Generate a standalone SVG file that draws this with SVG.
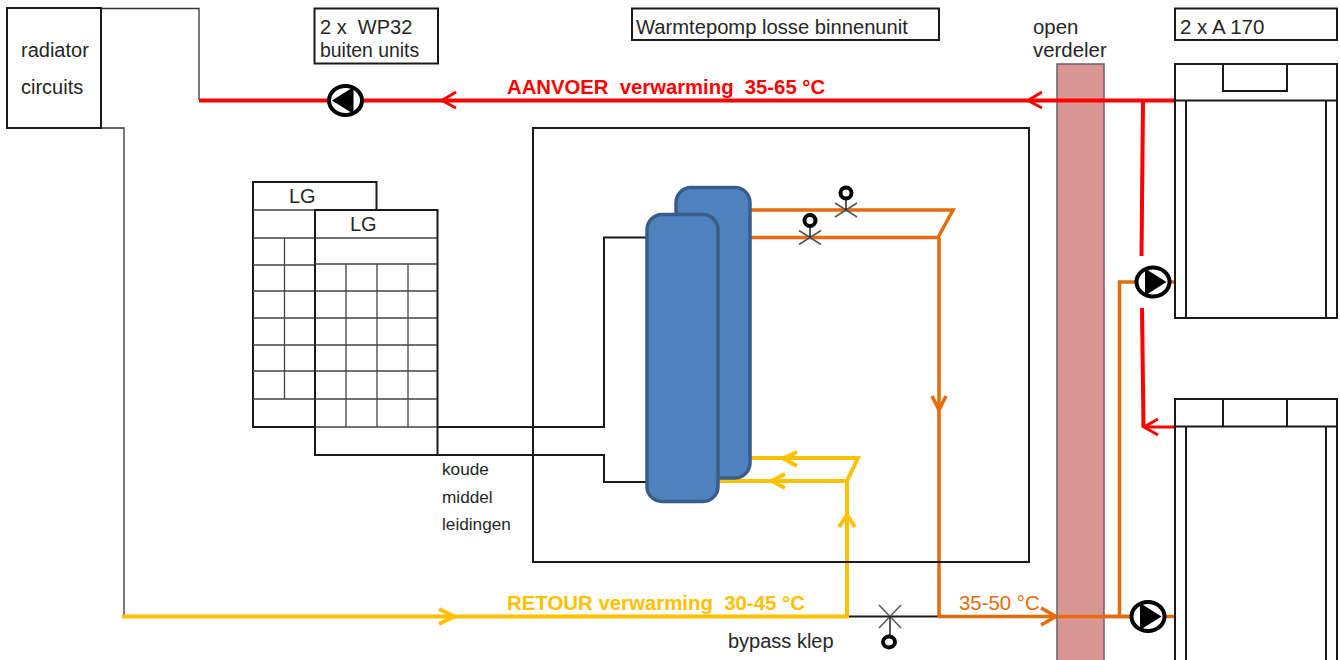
<svg xmlns="http://www.w3.org/2000/svg" width="1340" height="660" viewBox="0 0 1340 660">
<style>
text{font-family:"Liberation Sans",Arial,sans-serif;font-size:20px;fill:#262626;white-space:pre}
.box{fill:#fff;stroke:#1a1a1a;stroke-width:2}
.bl{fill:none;stroke:#1a1a1a;stroke-width:2}
.thin{fill:none;stroke:#333;stroke-width:1.3}
.grid{fill:none;stroke:#444;stroke-width:1.3}
.red{fill:none;stroke:#ff0000;stroke-width:4;stroke-linejoin:miter}
.red2{fill:none;stroke:#ff0000;stroke-width:3}
.or{fill:none;stroke:#e46c0a;stroke-width:3.5}
.ye{fill:none;stroke:#ffc000;stroke-width:4}
.tank{fill:#4f81bd;stroke:#385d8a;stroke-width:3.5}
.x{fill:none;stroke:#555;stroke-width:1.5}
.ring{fill:#fff;stroke:#000;stroke-width:4}
.pr{fill:#fff;stroke:#000;stroke-width:4}
</style>
<defs>
<g id="pump"><ellipse class="pr" cx="0" cy="0" rx="16.500" ry="14.500"/><path d="M-8-13.500 L13.500 0 L-8 13.500Z" fill="#000"/></g>
<g id="valve"><path class="x" d="M-11-7L11 7M-11 7L11-7"/><path d="M0 0V-11" stroke="#222" stroke-width="1.5" fill="none"/><circle class="ring" cx="0" cy="-17" r="5.500"/></g>
</defs>

<g id="connectors">
<path class="thin" d="M101 8.500H199V100"/>
<path class="thin" d="M101 128H124V616"/>
<path class="bl" d="M437 427H604V237.500H648"/>
<path class="bl" d="M437 455H604V482H648"/>
<path class="bl" d="M847 616.500H939"/>
<path class="ye" d="M122 616.500H847V481H718"/>
<path class="ye" d="M750 458H858L847 481"/>
<path class="ye" d="M439 609L454 616.500L439 624"/>
<path class="ye" d="M797 452L783 458.500L797 466"/>
<path class="ye" d="M785 474L772 481L785 488"/>
<path class="ye" d="M839 527L847 515L855 527"/>
<path class="or" d="M718 237.500H938"/>
<path class="or" d="M750 210H953L938 237.500"/>
<path class="or" d="M939 237.500V616.500H1132"/>
<path class="or" d="M932 396L939 410L946 396"/>
<path class="or" d="M1041 608L1056 616.500L1041 625"/>
<path class="or" d="M1137 282H1119.500V616"/>
<path class="or" d="M1165 616.500H1175"/>
<path class="or" d="M1168 282H1175"/>
</g>

<g id="verdeler"><rect x="1057" y="64" width="47" height="598" fill="#d99694" stroke="#666" stroke-width="1.500"/></g>

<g id="connectors-over">
<path class="or" d="M1057 616.500H1132"/>
<path class="red" d="M199 100.500H1175"/>
<path class="red2" d="M456 92L442 100.500L456 108"/>
<path class="red2" d="M1042 92L1028 100.500L1042 108"/>
<path class="red" d="M1143 100.500L1141.500 256"/>
<path class="red" d="M1142 308L1143.500 427"/>
<path class="red2" d="M1175 427H1144"/>
<path class="red2" d="M1158 419L1144 427L1158 435"/>
</g>

<g id="radiator"><rect class="box" x="7" y="8" width="94" height="120"/><text x="21" y="57">radiator</text><text x="21" y="94">circuits</text></g>
<g id="wp32"><rect class="box" x="314.500" y="8.500" width="123.500" height="55"/><text x="320" y="34">2 x  WP32</text><text x="320" y="57" style="font-size:19.400px">buiten units</text></g>
<g id="binnenunit-label"><rect class="box" x="632" y="8.500" width="307" height="31.500"/><text x="636" y="33.500" style="font-size:20.200px">Warmtepomp losse binnenunit</text></g>
<g id="verdeler-label"><text x="1033" y="33.500" style="font-size:20.400px">open</text><text x="1033" y="57" style="font-size:20.400px">verdeler</text></g>
<g id="a170-label"><rect class="box" x="1175" y="8.500" width="162" height="31.500"/><text x="1180" y="34" style="font-size:20.500px">2 x A 170</text></g>

<g id="unit1"><rect class="box" x="1175" y="64" width="162" height="254"/><path class="bl" d="M1175 100.500H1337M1186 100.500V318M1326 100.500V318"/><rect class="box" x="1223" y="64" width="64" height="27"/></g>
<g id="unit2"><path class="box" d="M1175 662V399H1337V662"/><path class="bl" d="M1175 426.500H1337M1186 426.500V662M1326 426.500V662M1223 399.500V426.500M1287 399.500V426.500"/></g>

<g id="binnenunit"><rect class="bl" x="533" y="128" width="496" height="434"/></g>

<g id="lg-back"><rect class="box" x="253" y="182" width="123.500" height="245"/><path class="grid" d="M253 210H376M253 238H376M253 265H376M253 291H376M253 318H376M253 345H376M253 371H376M253 399H376M284.500 238V399"/><text x="289" y="203">LG</text></g>
<g id="lg-front"><rect class="box" x="315" y="210" width="122.500" height="245"/><path class="grid" d="M315 238H437M315 264H437M315 291H437M315 318H437M315 345H437M315 371H437M315 399H437M315 427H437M346 264V427M377 264V427M408 264V427"/><text x="350" y="231">LG</text></g>

<g id="tank-back"><rect class="tank" x="676" y="187.500" width="74" height="290.500" rx="15"/></g>
<g id="tank-front"><rect class="tank" x="647" y="214.500" width="71" height="287" rx="15"/></g>

<g id="pump-1"><use href="#pump" transform="translate(345.500 100.500) scale(-1 1)"/></g>
<g id="pump-2"><use href="#pump" transform="translate(1153 282)"/></g>
<g id="pump-3"><use href="#pump" transform="translate(1148 616.500)"/></g>
<g id="valve-1"><use href="#valve" transform="translate(846 210)"/></g>
<g id="valve-2"><use href="#valve" transform="translate(810 237.500)"/></g>
<g id="valve-3"><path class="x" d="M879 605L901 628M879 628L901 605"/><path d="M890 616V636" stroke="#222" stroke-width="1.500"/><ellipse class="ring" cx="889" cy="642" rx="6" ry="5.500"/></g>

<g id="labels">
<text x="507" y="94" style="fill:#ff0000;font-weight:700;font-size:20.300px">AANVOER  verwarming  35-65 °C</text>
<text x="507" y="610" style="fill:#ffc000;font-weight:700;font-size:20.400px">RETOUR verwarming  30-45 °C</text>
<text x="959" y="610" style="fill:#e46c0a;font-size:20.400px">35-50 °C</text>
<text x="728" y="648">bypass klep</text>
<text x="442" y="475" style="font-size:17.200px">koude</text>
<text x="442" y="503" style="font-size:17.200px">middel</text>
<text x="442" y="530" style="font-size:17.200px">leidingen</text>
</g>
</svg>
